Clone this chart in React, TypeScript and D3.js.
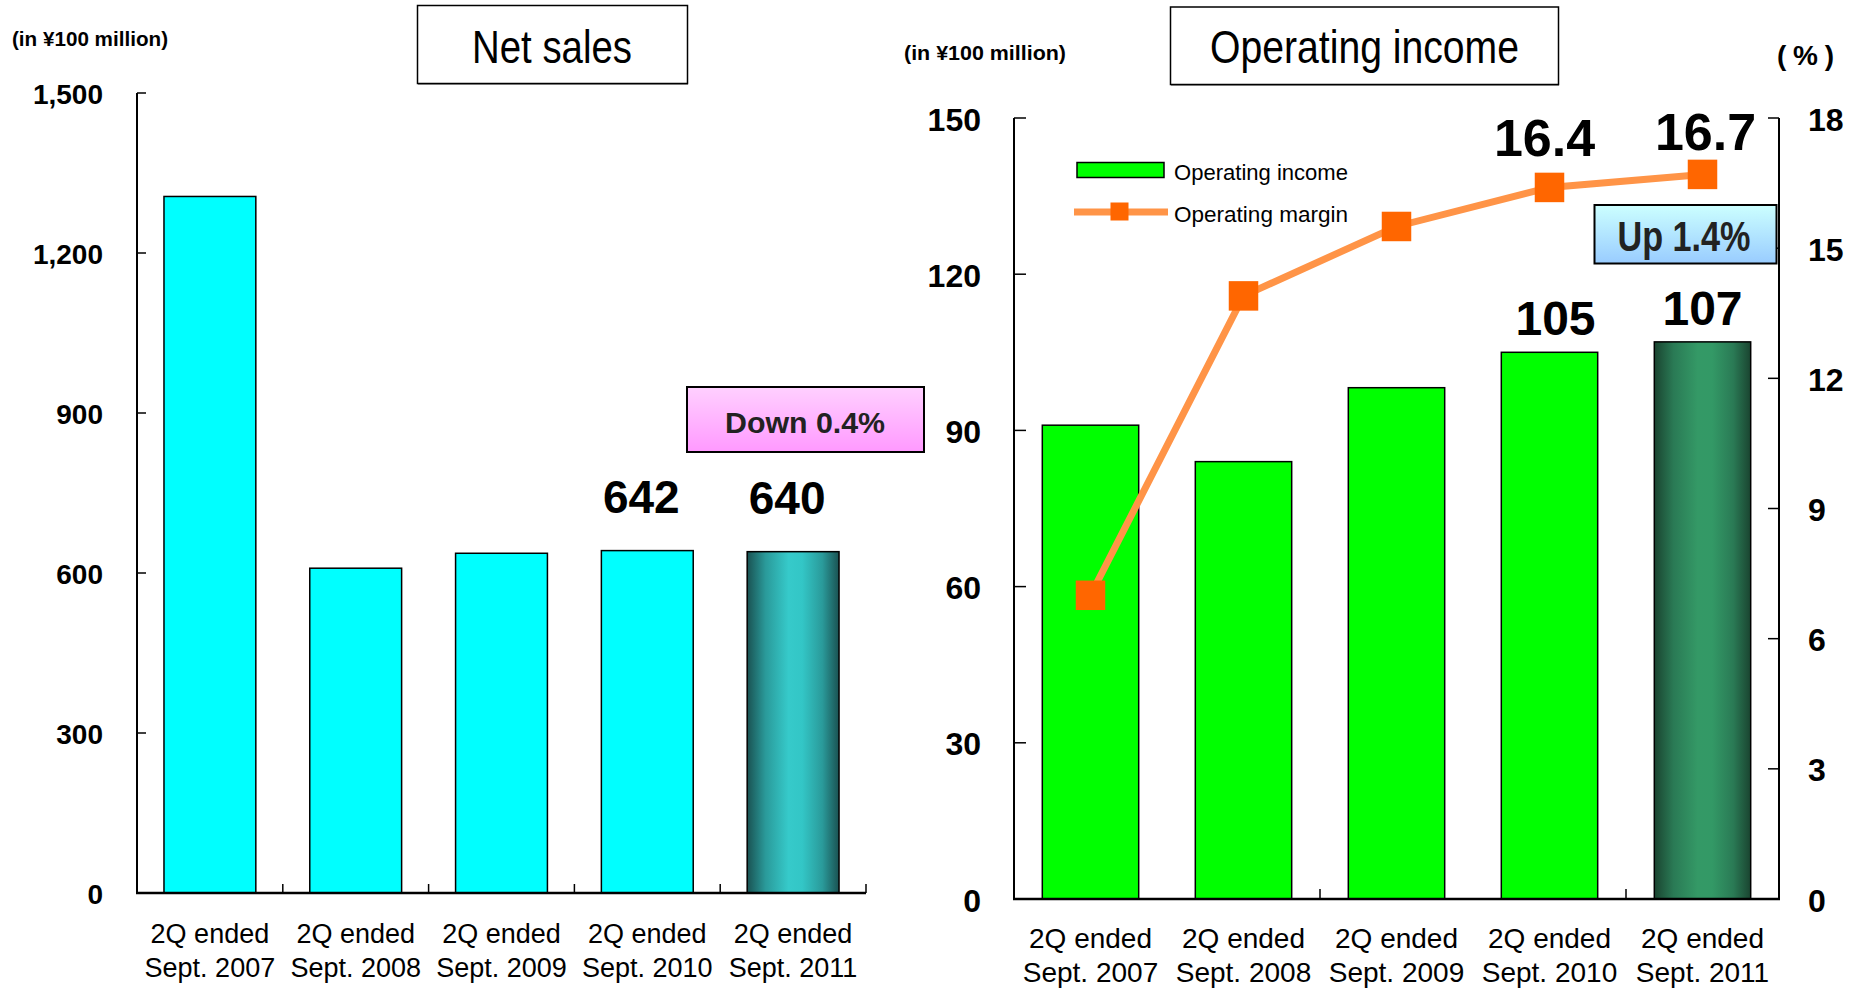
import React from "react";
import * as d3 from "d3";

const categories = [
  "2Q ended\nSept. 2007",
  "2Q ended\nSept. 2008",
  "2Q ended\nSept. 2009",
  "2Q ended\nSept. 2010",
  "2Q ended\nSept. 2011",
];
const netSales = [1306, 609, 637, 642, 640];
const operatingIncome = [91, 84, 98.2, 105, 107];
const operatingMargin = [7.0, 13.9, 15.5, 16.4, 16.7];
const netSalesTicks = [0, 300, 600, 900, 1200, 1500];
const incomeTicks = [0, 30, 60, 90, 120, 150];
const marginTicks = [0, 3, 6, 9, 12, 15, 18];
const labeledIdx = [3, 4];
const netSalesChange = "Down 0.4%";
const marginChange = "Up 1.4%";
const unitLabel = "(in ¥100 million)";
const pctLabel = "(%)";

const FONT = "'Liberation Sans', Arial, sans-serif";

export default function App() {
  const W = 1865;
  const H = 993;

  const xL = d3.scaleBand<string>().domain(categories).range([137, 866]).paddingInner(0.37).paddingOuter(0.185);
  const yL = d3.scaleLinear().domain([0, 1500]).range([893, 93]);
  const xR = d3.scaleBand<string>().domain(categories).range([1014, 1779]).paddingInner(0.37).paddingOuter(0.185);
  const yR = d3.scaleLinear().domain([0, 150]).range([899, 118]);
  const yM = d3.scaleLinear().domain([0, 18]).range([899, 118]);
  const fmt = d3.format(",");

  const stepL = xL.step();
  const stepR = xR.step();
  const cxL = (c: string) => (xL(c) as number) + xL.bandwidth() / 2;
  const cxR = (c: string) => (xR(c) as number) + xR.bandwidth() / 2;

  const line = d3
    .line<number>()
    .x((_, i) => cxR(categories[i]))
    .y((d) => yM(d));

  const last = categories.length - 1;
  const mk = 29.5;
  // label nudges for the margin annotations (index 3 and 4)
  const mDx = (i: number) => (i === 3 ? -5 : 3);
  const mDy = (i: number) => (i === 3 ? -31 : -24);

  return (
    <svg
      width={W}
      height={H}
      style={{ position: "absolute", left: 0, top: 0, background: "#fff" }}
      fontFamily={FONT}
    >
      <defs>
        <linearGradient id="gCyan" x1="0" x2="1" y1="0" y2="0">
          <stop offset="0" stopColor="#1a5252" />
          <stop offset="0.2" stopColor="#2a9a9a" />
          <stop offset="0.45" stopColor="#36caca" />
          <stop offset="0.6" stopColor="#33c6c6" />
          <stop offset="0.82" stopColor="#2a9a9a" />
          <stop offset="1" stopColor="#1a5252" />
        </linearGradient>
        <linearGradient id="gGreen" x1="0" x2="1" y1="0" y2="0">
          <stop offset="0" stopColor="#1a4430" />
          <stop offset="0.2" stopColor="#2a7a55" />
          <stop offset="0.45" stopColor="#349966" />
          <stop offset="0.6" stopColor="#339966" />
          <stop offset="0.82" stopColor="#2a7a55" />
          <stop offset="1" stopColor="#1a4430" />
        </linearGradient>
        <linearGradient id="gPink" x1="0" x2="0" y1="0" y2="1">
          <stop offset="0" stopColor="#ffd0ff" />
          <stop offset="1" stopColor="#ff99ff" />
        </linearGradient>
        <linearGradient id="gBlue" x1="0" x2="0" y1="0" y2="1">
          <stop offset="0" stopColor="#ccffff" />
          <stop offset="1" stopColor="#99ccff" />
        </linearGradient>
      </defs>

      {/* ================= LEFT: Net sales ================= */}
      <text x={12} y={46} fontSize={20.5} fontWeight="bold" textLength={156} lengthAdjust="spacingAndGlyphs">
        {unitLabel}
      </text>
      <rect x={417.5} y={5.5} width={270} height={78} fill="#fff" stroke="#000" strokeWidth={1.5} />
      <line x1={418} x2={688} y1={84.5} y2={84.5} stroke="#777" strokeWidth={1} />
      <text x={552} y={63} fontSize={46} textAnchor="middle" textLength={160} lengthAdjust="spacingAndGlyphs">
        Net sales
      </text>

      {netSales.map((v, i) => (
        <rect
          key={"ns" + i}
          x={xL(categories[i])}
          y={yL(v)}
          width={xL.bandwidth()}
          height={yL(0) - yL(v)}
          fill={i === last ? "url(#gCyan)" : "#00ffff"}
          stroke="#000"
          strokeWidth={1.5}
        />
      ))}

      <line x1={137} x2={137} y1={yL(1500)} y2={yL(0)} stroke="#000" strokeWidth={2} />
      <line x1={136} x2={866} y1={yL(0)} y2={yL(0)} stroke="#000" strokeWidth={2.5} />
      {netSalesTicks.map((t) => (
        <g key={"lt" + t}>
          <line x1={137} x2={146} y1={yL(t)} y2={yL(t)} stroke="#000" strokeWidth={1.5} />
          <text x={103} y={yL(t) + 10.5} fontSize={28} fontWeight="bold" textAnchor="end">
            {fmt(t)}
          </text>
        </g>
      ))}
      {categories.map((c, i) => (
        <line
          key={"lxt" + i}
          x1={137 + (i + 1) * stepL}
          x2={137 + (i + 1) * stepL}
          y1={yL(0)}
          y2={yL(0) - 9}
          stroke="#000"
          strokeWidth={1.5}
        />
      ))}
      {categories.map((c, i) =>
        c.split("\n").map((ln, j) => (
          <text key={"lxl" + i + j} x={cxL(c)} y={942.7 + j * 34} fontSize={27} textAnchor="middle">
            {ln}
          </text>
        ))
      )}
      {labeledIdx.map((i) => (
        <text
          key={"nsl" + i}
          x={cxL(categories[i]) - 6}
          y={yL(netSales[i]) - 38}
          fontSize={46}
          fontWeight="bold"
          textAnchor="middle"
        >
          {netSales[i]}
        </text>
      ))}
      <rect x={687} y={387} width={237} height={65} fill="url(#gPink)" stroke="#000" strokeWidth={2} />
      <text x={805} y={433.3} fontSize={30} fontWeight="bold" fill="#222" textAnchor="middle" textLength={160} lengthAdjust="spacingAndGlyphs">
        {netSalesChange}
      </text>

      {/* ================= RIGHT: Operating income ================= */}
      <text x={904} y={59.5} fontSize={21} fontWeight="bold" textLength={162} lengthAdjust="spacingAndGlyphs">
        {unitLabel}
      </text>
      <rect x={1170.5} y={7} width={388} height={77.5} fill="#fff" stroke="#000" strokeWidth={1.5} />
      <line x1={1171} x2={1559} y1={85.5} y2={85.5} stroke="#777" strokeWidth={1} />
      <text x={1364.5} y={63.3} fontSize={47} textAnchor="middle" textLength={309} lengthAdjust="spacingAndGlyphs">
        Operating income
      </text>
      <text x={1777} y={65} fontSize={28} fontWeight="bold" textLength={57} lengthAdjust="spacing">
        {pctLabel}
      </text>

      {operatingIncome.map((v, i) => (
        <rect
          key={"oi" + i}
          x={xR(categories[i])}
          y={yR(v)}
          width={xR.bandwidth()}
          height={yR(0) - yR(v)}
          fill={i === last ? "url(#gGreen)" : "#00ff00"}
          stroke="#000"
          strokeWidth={1.5}
        />
      ))}

      <line x1={1014} x2={1014} y1={yR(150)} y2={yR(0)} stroke="#000" strokeWidth={2} />
      <line x1={1779} x2={1779} y1={yM(18)} y2={yM(0)} stroke="#000" strokeWidth={2} />
      <line x1={1013} x2={1780} y1={yR(0)} y2={yR(0)} stroke="#000" strokeWidth={2.5} />
      {incomeTicks.map((t) => (
        <g key={"rt" + t}>
          <line x1={1014} x2={1026} y1={yR(t)} y2={yR(t)} stroke="#000" strokeWidth={1.5} />
          <text x={981} y={yR(t) + 12.5} fontSize={32} fontWeight="bold" textAnchor="end">
            {fmt(t)}
          </text>
        </g>
      ))}
      {marginTicks.map((t) => (
        <g key={"mt" + t}>
          <line x1={1768} x2={1779} y1={yM(t)} y2={yM(t)} stroke="#000" strokeWidth={1.5} />
          <text x={1808} y={yM(t) + 12.5} fontSize={32} fontWeight="bold" textAnchor="start">
            {t}
          </text>
        </g>
      ))}
      {[2, 4].map((b) => (
        <line
          key={"rxt" + b}
          x1={1014 + b * stepR}
          x2={1014 + b * stepR}
          y1={yR(0)}
          y2={yR(0) - 10}
          stroke="#000"
          strokeWidth={1.5}
        />
      ))}
      {categories.map((c, i) =>
        c.split("\n").map((ln, j) => (
          <text key={"rxl" + i + j} x={cxR(c)} y={947.5 + j * 34.5} fontSize={28} textAnchor="middle">
            {ln}
          </text>
        ))
      )}
      {labeledIdx.map((i) => (
        <text
          key={"oil" + i}
          x={cxR(categories[i]) + (i === 3 ? 6 : 0)}
          y={yR(operatingIncome[i]) - 17}
          fontSize={48}
          fontWeight="bold"
          textAnchor="middle"
        >
          {operatingIncome[i]}
        </text>
      ))}

      <path d={line(operatingMargin) as string} fill="none" stroke="#ff9447" strokeWidth={7} />
      {operatingMargin.map((v, i) => (
        <rect
          key={"mm" + i}
          x={cxR(categories[i]) - mk / 2}
          y={yM(v) - mk / 2}
          width={mk}
          height={mk}
          fill="#ff6600"
        />
      ))}
      {labeledIdx.map((i) => (
        <text
          key={"mml" + i}
          x={cxR(categories[i]) + mDx(i)}
          y={yM(operatingMargin[i]) + mDy(i)}
          fontSize={52}
          fontWeight="bold"
          textAnchor="middle"
        >
          {operatingMargin[i].toFixed(1)}
        </text>
      ))}

      <rect x={1594.5} y={205} width={182} height={58.5} fill="url(#gBlue)" stroke="#000" strokeWidth={2} />
      <text x={1684} y={250.7} fontSize={42} fontWeight="bold" fill="#222" textAnchor="middle" textLength={133} lengthAdjust="spacingAndGlyphs">
        {marginChange}
      </text>

      <rect x={1077} y={162.5} width={87} height={15} fill="#00ff00" stroke="#000" strokeWidth={1.5} />
      <text x={1174} y={180} fontSize={22.5} textLength={174} lengthAdjust="spacingAndGlyphs">
        Operating income
      </text>
      <line x1={1074} x2={1168} y1={212} y2={212} stroke="#ff9447" strokeWidth={7} />
      <rect x={1110.5} y={202.5} width={18} height={18} fill="#ff6600" />
      <text x={1174} y={221.7} fontSize={22.5} textLength={174} lengthAdjust="spacingAndGlyphs">
        Operating margin
      </text>
    </svg>
  );
}
